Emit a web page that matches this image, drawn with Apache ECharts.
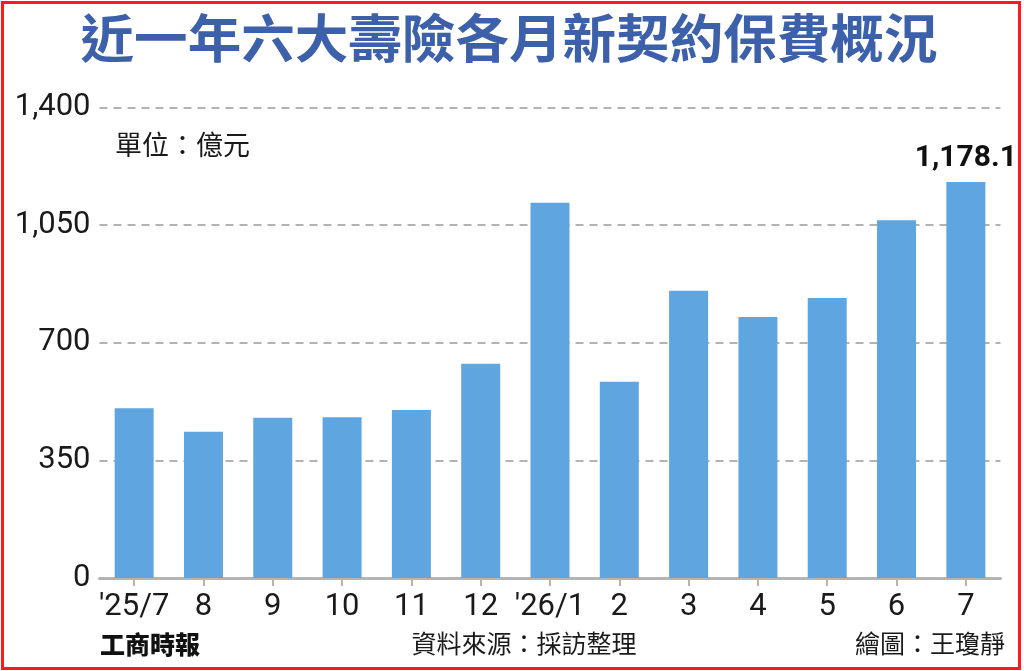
<!DOCTYPE html>
<html>
<head>
<meta charset="utf-8">
<script src="https://cdn.jsdelivr.net/npm/echarts@6/dist/echarts.min.js"></script>
<style>
html,body{margin:0;padding:0;background:#fff;}
#c{width:1024px;height:671px;}
</style>
</head>
<body>
<div id="c"></div>
<script>
var categories = ["'25/7","8","9","10","11","12","'26/1","2","3","4","5","6","7"];
var values = [505, 435, 477, 478, 500, 637, 1116, 584, 854, 776, 833, 1064, 1178.1];
var yTicks = [0, 350, 700, 1050, 1400];
var titleText = '近一年六大壽險各月新契約保費概況';
var unitText = '單位：億元';
var sourceText = '資料來源：採訪整理';
var creditText = '繪圖：王瓊靜';
var logoText = '工商時報';

var chart = echarts.init(document.getElementById('c'), null, {renderer:'canvas'});
var lastIdx = values.length - 1;
chart.setOption({
  animation:false,
  backgroundColor:'#ffffff',
  grid:{left:99.5, right:23.5, top:107.3, bottom:93, containLabel:false},
  xAxis:{
    type:'category',
    data:categories,
    boundaryGap:true,
    axisLine:{show:true, lineStyle:{color:'#b4b4b4', width:3}},
    axisTick:{show:true, alignWithLabel:true, length:8, lineStyle:{color:'#b4b4b4', width:2}},
    axisLabel:{color:'#1a1a1a', fontSize:31, fontFamily:'"Liberation Sans Narrow", Roboto, sans-serif', margin:14, interval:0}
  },
  yAxis:{
    type:'value',
    min:yTicks[0], max:yTicks[yTicks.length-1], interval:350,
    axisLine:{show:false},
    axisTick:{show:false},
    splitLine:{show:true, lineStyle:{color:'#9a9a9a', type:[8,6], width:1.5}},
    axisLabel:{color:'#1a1a1a', fontSize:31, fontFamily:'Roboto, sans-serif', margin:9,
      formatter:function(v){return v.toLocaleString('en-US');}}
  },
  series:[{
    type:'bar',
    data:values.map(function(v,i){
      return i===lastIdx ? {value:v, label:{show:true}} : v;
    }),
    barWidth:39,
    itemStyle:{color:'#5fa5df'},
    label:{show:false, position:'top', distance:8, color:'#111', fontSize:30, fontWeight:'bold',
      fontFamily:'Roboto, sans-serif',
      formatter:function(p){return p.value.toLocaleString('en-US',{minimumFractionDigits:1});}}
  }],
  graphic:[
    {type:'rect', left:0, top:0, silent:true, z:-1,
      shape:{x:1.5, y:1.5, width:1017, height:666},
      style:{fill:'none', stroke:'#ff1a1a', lineWidth:3}},
    {type:'text', x:509, y:38, scaleX:1.03, scaleY:1,
      style:{text:titleText, fill:'#3d60aa', font:'bold 52px "Noto Sans CJK TC", sans-serif',
        textAlign:'center', textVerticalAlign:'middle'}},
    {type:'text', x:115, y:145,
      style:{text:unitText, fill:'#1a1a1a', font:'27px "Noto Sans CJK TC", sans-serif',
        textAlign:'left', textVerticalAlign:'middle'}},
    {type:'text', x:524, y:643,
      style:{text:sourceText, fill:'#1a1a1a', font:'25px "Noto Sans CJK TC", sans-serif',
        textAlign:'center', textVerticalAlign:'middle'}},
    {type:'text', x:1005, y:643,
      style:{text:creditText, fill:'#1a1a1a', font:'25px "Noto Sans CJK TC", sans-serif',
        textAlign:'right', textVerticalAlign:'middle'}},
    {type:'text', x:100, y:644,
      style:{text:logoText, fill:'#111', font:'900 25px "Noto Sans CJK TC", serif',
        textAlign:'left', textVerticalAlign:'middle'}}
  ]
});
</script>
</body>
</html>
